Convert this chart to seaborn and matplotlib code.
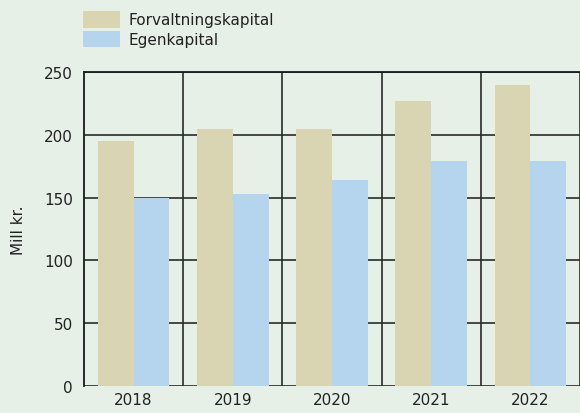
import matplotlib
matplotlib.use("Agg")
import matplotlib.pyplot as plt
import seaborn as sns
import pandas as pd
from matplotlib.patches import Patch

years = ["2018", "2019", "2020", "2021", "2022"]
forvaltningskapital = [195, 205, 205, 227, 240]
egenkapital = [150, 153, 164, 179, 179]
series_names = ["Forvaltningskapital", "Egenkapital"]
colors = ["#D9D5B3", "#B5D5EE"]
bg = "#E6F0E6"

df = pd.DataFrame({
    "year": years * 2,
    "value": forvaltningskapital + egenkapital,
    "series": [series_names[0]] * len(years) + [series_names[1]] * len(years),
})

sns.set_theme(style="white")
plt.rcParams["font.family"] = ["DejaVu Sans"]

fig = plt.figure(figsize=(5.8, 4.14), dpi=100, facecolor=bg)
ax = fig.add_axes([84 / 580, 1 - 387 / 414, (580 - 84) / 580, (387 - 73) / 414])
ax.set_facecolor(bg)

sns.barplot(data=df, x="year", y="value", hue="series", palette=colors,
            width=0.72, saturation=1, ax=ax, legend=False, zorder=3,
            linewidth=0, edgecolor="none")

ax.set_ylim(0, 250)
ax.set_xlim(-0.5, 4.47)
ax.set_yticks([0, 50, 100, 150, 200, 250])
ax.set_xticks(range(len(years)))
ax.set_xticklabels(years)
ax.set_xticks([i + 0.5 for i in range(len(years))], minor=True)
ax.grid(axis="y", which="major", color="#2a2a2a", lw=1.2, zorder=0)
ax.grid(axis="x", which="minor", color="#2a2a2a", lw=1.2, zorder=0)
ax.grid(axis="x", which="major", visible=False)
ax.set_axisbelow(True)

for s in ["right", "bottom"]:
    ax.spines[s].set_visible(False)
for s in ["left", "top"]:
    ax.spines[s].set_color("#1a1a1a")
    ax.spines[s].set_linewidth(1.3)

ax.tick_params(axis="both", which="both", length=0, labelsize=11, colors="#222222")
ax.tick_params(axis="y", pad=8)
ax.tick_params(axis="x", pad=4)
ax.set_xlabel("")
ax.set_ylabel("Mill kr.", fontsize=11, color="#222222", labelpad=13)

handles = [Patch(facecolor=c, edgecolor="none") for c in colors]
fig.legend(handles, series_names, loc="upper left", bbox_to_anchor=(80 / 580, 1 - 9 / 414),
           frameon=False, fontsize=11, handlelength=2.4, handleheight=1.3,
           labelspacing=0.2, handletextpad=0.6, borderaxespad=0, borderpad=0.2,
           labelcolor="#222222")

fig.savefig("out.png", dpi=100, facecolor=bg)
